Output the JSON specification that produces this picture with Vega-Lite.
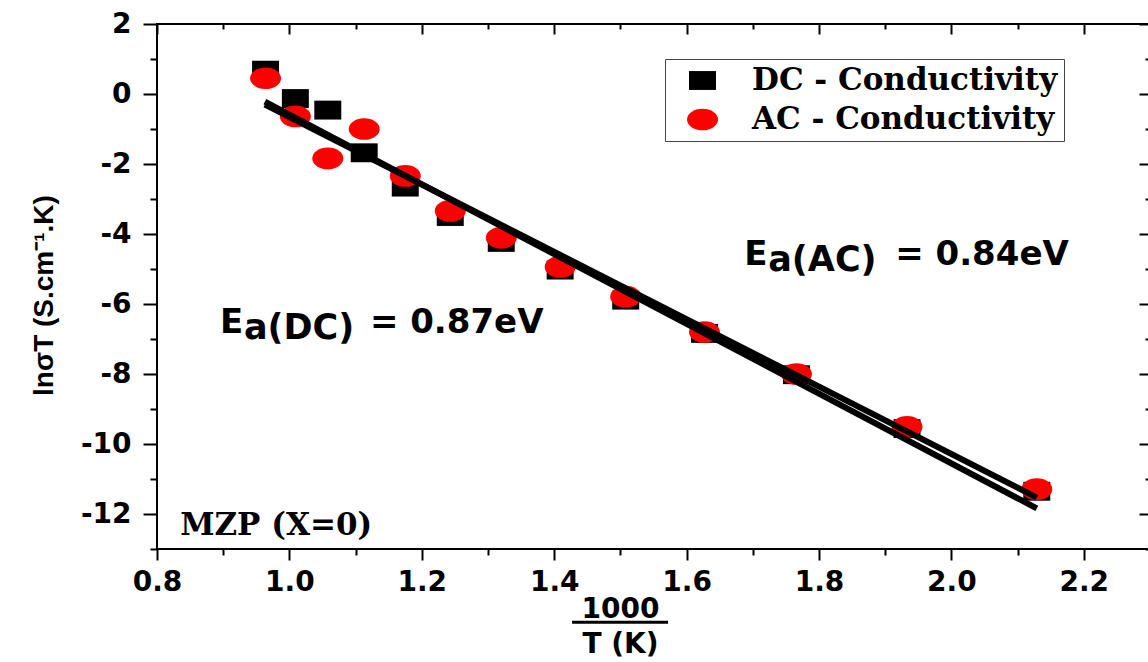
{
  "$schema": "https://vega.github.io/schema/vega-lite/v6.json",
  "width": 993,
  "height": 525,
  "autosize": {"type": "none"},
  "padding": {"left": 157, "top": 24, "right": 0, "bottom": 113},
  "background": "white",
  "config": {
    "view": {"stroke": "black", "strokeWidth": 2},
    "axis": {"grid": false, "domain": false, "tickColor": "black", "tickWidth": 2, "labelColor": "black", "titleColor": "black"}
  },
  "datasets": {
    "points": [
      {"series": "DC - Conductivity", "inv_T": 0.964, "ln_sigma_T": 0.68},
      {"series": "DC - Conductivity", "inv_T": 1.009, "ln_sigma_T": -0.13},
      {"series": "DC - Conductivity", "inv_T": 1.058, "ln_sigma_T": -0.46},
      {"series": "DC - Conductivity", "inv_T": 1.113, "ln_sigma_T": -1.68},
      {"series": "DC - Conductivity", "inv_T": 1.175, "ln_sigma_T": -2.66},
      {"series": "DC - Conductivity", "inv_T": 1.243, "ln_sigma_T": -3.50},
      {"series": "DC - Conductivity", "inv_T": 1.320, "ln_sigma_T": -4.24},
      {"series": "DC - Conductivity", "inv_T": 1.409, "ln_sigma_T": -5.03},
      {"series": "DC - Conductivity", "inv_T": 1.508, "ln_sigma_T": -5.89},
      {"series": "DC - Conductivity", "inv_T": 1.627, "ln_sigma_T": -6.84},
      {"series": "DC - Conductivity", "inv_T": 1.766, "ln_sigma_T": -8.02},
      {"series": "DC - Conductivity", "inv_T": 1.933, "ln_sigma_T": -9.56},
      {"series": "DC - Conductivity", "inv_T": 2.129, "ln_sigma_T": -11.35},
      {"series": "AC - Conductivity", "inv_T": 0.964, "ln_sigma_T": 0.45},
      {"series": "AC - Conductivity", "inv_T": 1.009, "ln_sigma_T": -0.64},
      {"series": "AC - Conductivity", "inv_T": 1.058, "ln_sigma_T": -1.84},
      {"series": "AC - Conductivity", "inv_T": 1.113, "ln_sigma_T": -1.00},
      {"series": "AC - Conductivity", "inv_T": 1.175, "ln_sigma_T": -2.34},
      {"series": "AC - Conductivity", "inv_T": 1.243, "ln_sigma_T": -3.34},
      {"series": "AC - Conductivity", "inv_T": 1.320, "ln_sigma_T": -4.11},
      {"series": "AC - Conductivity", "inv_T": 1.409, "ln_sigma_T": -4.94},
      {"series": "AC - Conductivity", "inv_T": 1.508, "ln_sigma_T": -5.79},
      {"series": "AC - Conductivity", "inv_T": 1.627, "ln_sigma_T": -6.80},
      {"series": "AC - Conductivity", "inv_T": 1.766, "ln_sigma_T": -8.00},
      {"series": "AC - Conductivity", "inv_T": 1.933, "ln_sigma_T": -9.51},
      {"series": "AC - Conductivity", "inv_T": 2.129, "ln_sigma_T": -11.29}
    ],
    "fits": [
      {"fit": "DC", "inv_T": 0.963, "ln_sigma_T": -0.22},
      {"fit": "DC", "inv_T": 2.129, "ln_sigma_T": -11.84},
      {"fit": "AC", "inv_T": 0.963, "ln_sigma_T": -0.30},
      {"fit": "AC", "inv_T": 2.129, "ln_sigma_T": -11.53}
    ],
    "one": [{}]
  },
  "layer": [
    {
      "data": {"name": "points"},
      "mark": {"type": "point", "filled": true, "opacity": 1, "size": 961, "strokeWidth": 0},
      "encoding": {
        "x": {
          "field": "inv_T", "type": "quantitative",
          "scale": {"domain": [0.8, 2.3], "nice": false, "zero": false},
          "axis": {
            "orient": "bottom",
            "values": [0.8, 0.9, 1.0, 1.1, 1.2, 1.3, 1.4, 1.5, 1.6, 1.7, 1.8, 1.9, 2.0, 2.1, 2.2, 2.3],
            "tickSize": {"condition": {"test": "round(datum.value * 10) % 2 == 0", "value": 11}, "value": 6},
            "labelExpr": "round(datum.value * 10) % 2 == 0 ? format(datum.value, '.1f') : ''",
            "labelFont": "DejaVu Sans", "labelFontSize": 28, "labelFontWeight": "bold",
            "labelPadding": 8, "labelFlush": false, "labelOverlap": false,
            "title": ["1000", "T (K)"],
            "titleFont": "DejaVu Sans", "titleFontSize": 28, "titleFontWeight": "bold",
            "titleLineHeight": 35, "titleX": 463, "titleY": 68,
            "titleBaseline": "alphabetic", "titleAlign": "center", "titleAnchor": "start"
          }
        },
        "y": {
          "field": "ln_sigma_T", "type": "quantitative",
          "scale": {"domain": [-13, 2], "nice": false, "zero": false},
          "axis": {
            "orient": "left",
            "values": [-13, -12, -11, -10, -9, -8, -7, -6, -5, -4, -3, -2, -1, 0, 1, 2],
            "tickSize": {"condition": {"test": "datum.value % 2 == 0", "value": 14}, "value": 7},
            "labelExpr": "datum.value % 2 == 0 ? '' + datum.value : ''",
            "labelFont": "DejaVu Sans", "labelFontSize": 28, "labelFontWeight": "bold",
            "labelPadding": 12, "labelFlush": false, "labelOverlap": false,
            "title": "lnσT (S.cm⁻¹.K)",
            "titleFont": "Liberation Sans", "titleFontSize": 28, "titleFontWeight": "bold",
            "titleX": -113, "titleY": 271, "titleAngle": 270,
            "titleAlign": "center", "titleBaseline": "middle"
          }
        },
        "color": {
          "field": "series", "type": "nominal",
          "scale": {"domain": ["DC - Conductivity", "AC - Conductivity"], "range": ["#000000", "#ff0000"]},
          "legend": {
            "orient": "none", "legendX": 508, "legendY": 35, "title": null,
            "strokeColor": "#444444", "fillColor": "white", "padding": 6,
            "symbolOffset": 16, "labelOffset": 34, "rowPadding": 7,
            "symbolSize": 961, "symbolStrokeWidth": 0, "symbolOpacity": 1,
            "labelFont": "DejaVu Serif", "labelFontSize": 31, "labelFontWeight": "bold",
            "labelColor": "black", "labelLimit": 500
          }
        },
        "shape": {
          "field": "series", "type": "nominal",
          "scale": {
            "domain": ["DC - Conductivity", "AC - Conductivity"],
            "range": [
              "M-0.87,-0.61H0.87V0.61H-0.87Z",
              "M-1,0C-1,-0.387 -0.552,-0.7 0,-0.7C0.552,-0.7 1,-0.387 1,0C1,0.387 0.552,0.7 0,0.7C-0.552,0.7 -1,0.387 -1,0Z"
            ]
          },
          "legend": {
            "orient": "none", "legendX": 508, "legendY": 35, "title": null,
            "strokeColor": "#444444", "fillColor": "white", "padding": 6,
            "symbolOffset": 16, "labelOffset": 34, "rowPadding": 7,
            "symbolSize": 961, "symbolStrokeWidth": 0, "symbolOpacity": 1,
            "labelFont": "DejaVu Serif", "labelFontSize": 31, "labelFontWeight": "bold",
            "labelColor": "black", "labelLimit": 500
          }
        }
      }
    },
    {
      "data": {"name": "fits"},
      "mark": {"type": "line", "color": "black", "strokeWidth": 6, "strokeCap": "butt"},
      "encoding": {
        "x": {
          "field": "inv_T", "type": "quantitative",
          "axis": {
            "orient": "top",
            "values": [0.8, 0.9, 1.0, 1.1, 1.2, 1.3, 1.4, 1.5, 1.6, 1.7, 1.8, 1.9, 2.0, 2.1, 2.2, 2.3],
            "tickSize": {"condition": {"test": "round(datum.value * 10) % 2 == 0", "value": -10}, "value": -5},
            "labels": false, "title": null
          }
        },
        "y": {
          "field": "ln_sigma_T", "type": "quantitative",
          "axis": {
            "orient": "right",
            "values": [-13, -12, -11, -10, -9, -8, -7, -6, -5, -4, -3, -2, -1, 0, 1, 2],
            "tickSize": {"condition": {"test": "datum.value % 2 == 0", "value": -11}, "value": -5},
            "labels": false, "title": null
          }
        },
        "detail": {"field": "fit", "type": "nominal"}
      }
    },
    {
      "data": {"name": "one"},
      "mark": {"type": "text", "text": "E", "align": "left", "baseline": "alphabetic", "font": "DejaVu Sans", "fontSize": 34, "fontWeight": "bold", "color": "black"},
      "encoding": {
        "x": {"datum": 0.895, "type": "quantitative", "axis": null},
        "y": {"datum": -6.83, "type": "quantitative", "axis": null}
      }
    },
    {
      "data": {"name": "one"},
      "mark": {"type": "text", "text": "a(DC)", "align": "left", "baseline": "alphabetic", "dx": 24, "dy": 6, "font": "DejaVu Sans", "fontSize": 35, "fontWeight": "bold", "color": "black"},
      "encoding": {
        "x": {"datum": 0.895, "type": "quantitative", "axis": null},
        "y": {"datum": -6.83, "type": "quantitative", "axis": null}
      }
    },
    {
      "data": {"name": "one"},
      "mark": {"type": "text", "text": "= 0.87eV", "align": "left", "baseline": "alphabetic", "dx": 150, "font": "DejaVu Sans", "fontSize": 34, "fontWeight": "bold", "color": "black"},
      "encoding": {
        "x": {"datum": 0.895, "type": "quantitative", "axis": null},
        "y": {"datum": -6.83, "type": "quantitative", "axis": null}
      }
    },
    {
      "data": {"name": "one"},
      "mark": {"type": "text", "text": "E", "align": "left", "baseline": "alphabetic", "font": "DejaVu Sans", "fontSize": 34, "fontWeight": "bold", "color": "black"},
      "encoding": {
        "x": {"datum": 1.687, "type": "quantitative", "axis": null},
        "y": {"datum": -4.89, "type": "quantitative", "axis": null}
      }
    },
    {
      "data": {"name": "one"},
      "mark": {"type": "text", "text": "a(AC)", "align": "left", "baseline": "alphabetic", "dx": 24, "dy": 6, "font": "DejaVu Sans", "fontSize": 35, "fontWeight": "bold", "color": "black"},
      "encoding": {
        "x": {"datum": 1.687, "type": "quantitative", "axis": null},
        "y": {"datum": -4.89, "type": "quantitative", "axis": null}
      }
    },
    {
      "data": {"name": "one"},
      "mark": {"type": "text", "text": "= 0.84eV", "align": "left", "baseline": "alphabetic", "dx": 151, "font": "DejaVu Sans", "fontSize": 34, "fontWeight": "bold", "color": "black"},
      "encoding": {
        "x": {"datum": 1.687, "type": "quantitative", "axis": null},
        "y": {"datum": -4.89, "type": "quantitative", "axis": null}
      }
    },
    {
      "data": {"name": "one"},
      "mark": {"type": "text", "text": "MZP (X=0)", "align": "left", "baseline": "alphabetic", "font": "DejaVu Serif", "fontSize": 31, "fontWeight": "bold", "color": "black"},
      "encoding": {
        "x": {"datum": 0.835, "type": "quantitative", "axis": null},
        "y": {"datum": -12.6, "type": "quantitative", "axis": null}
      }
    },
    {
      "data": {"name": "one"},
      "mark": {"type": "rule", "color": "black", "strokeWidth": 3, "clip": false},
      "encoding": {
        "x": {"datum": 1.427, "type": "quantitative", "axis": null},
        "x2": {"datum": 1.572},
        "y": {"datum": -15.09, "type": "quantitative", "axis": null}
      }
    }
  ],
  "resolve": {"axis": {"x": "independent", "y": "independent"}}
}
